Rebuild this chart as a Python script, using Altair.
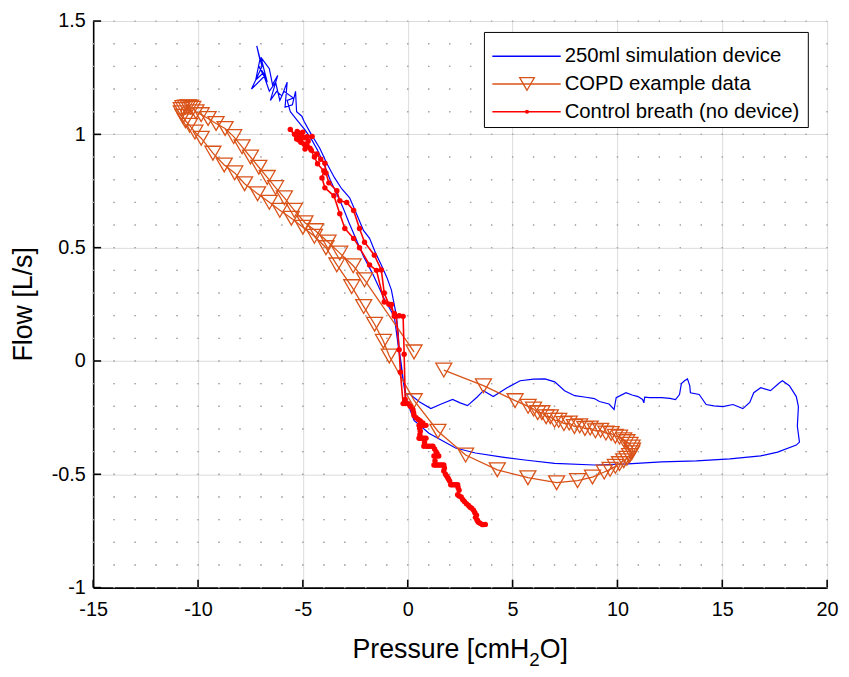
import altair as alt
import pandas as pd

W, H = 741, 572
X_DOMAIN = [-15, 20]
Y_DOMAIN = [-1, 1.5]
x_ticks = [-15, -10, -5, 0, 5, 10, 15, 20]
y_ticks = [-1, -0.5, 0, 0.5, 1, 1.5]
x_minor = list(range(-15, 21))
y_minor = [round(-1 + 0.1 * i, 1) for i in range(26)]

series_names = ["250ml simulation device", "COPD example data", "Control breath (no device)"]
series_colors = ["#0000FF", "#D95319", "#FF0000"]

# (pressure cmH2O, flow L/s) in drawing order
blue_pts = [
    (-5.6, 1.10), (-5.75, 1.15), (-5.45, 1.16), (-5.9, 1.19), (-6.1, 1.15), (-6.3, 1.23), (-6.6, 1.19),
    (-6.9, 1.27), (-7.25, 1.24), (-7.05, 1.33), (-7.2, 1.39), (-6.95, 1.30), (-7.45, 1.20), (-6.8, 1.26),
    (-7.1, 1.30), (-6.7, 1.23), (-7.0, 1.34), (-6.6, 1.29), (-6.45, 1.22), (-6.2, 1.26), (-6.55, 1.15),
    (-6.25, 1.19), (-6.0, 1.17), (-5.75, 1.23), (-5.85, 1.12), (-5.5, 1.13), (-5.35, 1.19), (-5.3, 1.10),
    (-5.05, 1.08),
    (-4.94, 1.057), (-4.6, 1.0), (-4.2, 0.94), (-3.85, 0.87), (-3.5, 0.81), (-3.15, 0.76), (-2.77, 0.72),
    (-2.4, 0.64), (-2.11, 0.576), (-1.82, 0.541), (-1.55, 0.48), (-1.26, 0.424), (-1.0, 0.37), (-0.78, 0.314),
    (-0.55, 0.205), (-0.45, 0.12), (-0.41, 0.05), (-0.3, -0.02), (-0.22, -0.08), (-0.08, -0.15),
    (0.07, -0.144), (0.55, -0.18), (1.10, -0.210), (1.6, -0.19), (2.14, -0.170), (2.5, -0.185), (2.85, -0.197),
    (3.3, -0.16), (3.61, -0.131), (4.08, -0.157), (4.7, -0.12), (5.36, -0.087), (6.0, -0.08), (6.54, -0.079),
    (7.01, -0.092), (7.48, -0.131), (7.96, -0.153), (8.5, -0.16), (8.90, -0.166), (9.14, -0.179), (9.6, -0.19),
    (9.84, -0.214), (9.94, -0.162), (10.41, -0.140), (10.7, -0.15), (10.98, -0.157), (11.2, -0.17),
    (11.26, -0.185), (11.3, -0.16), (11.54, -0.162), (12.11, -0.162), (12.5, -0.165), (12.77, -0.170),
    (12.96, -0.148), (13.05, -0.10), (13.20, -0.087), (13.34, -0.079), (13.45, -0.11), (13.48, -0.140),
    (13.90, -0.148), (14.23, -0.192), (14.6, -0.198), (15.03, -0.201), (15.51, -0.192), (15.98, -0.210),
    (16.31, -0.183), (16.50, -0.140), (16.83, -0.118), (17.30, -0.131), (17.73, -0.096), (17.87, -0.087),
    (18.20, -0.109), (18.53, -0.157), (18.63, -0.201), (18.58, -0.288), (18.68, -0.358),
    (18.53, -0.371), (17.64, -0.402), (16.83, -0.419), (15.37, -0.432), (13.77, -0.441), (12.11, -0.445),
    (10.50, -0.454), (8.90, -0.459), (7.0, -0.452), (5.59, -0.437), (4.51, -0.424), (3.23, -0.406),
    (2.28, -0.384), (1.01, -0.319), (0.30, -0.262), (-0.08, -0.166), (-0.31, -0.035), (-0.5, 0.1),
    (-0.64, 0.196),
    (-1.1, 0.27), (-1.7, 0.39), (-2.1, 0.46), (-2.44, 0.533), (-2.8, 0.61), (-3.1, 0.68), (-3.4, 0.74),
    (-3.7, 0.80), (-4.0, 0.87), (-4.3, 0.93), (-4.6, 0.98), (-4.9, 1.02), (-5.25, 1.06), (-5.6, 1.10),
]

orange_pts = [
    (1.72, -0.04), (3.61, -0.109), (5.12, -0.175), (5.74, -0.200),
    (6.0, -0.212), (6.2, -0.228), (6.4, -0.228), (6.6, -0.246), (6.8, -0.246), (7.0, -0.262), (7.2, -0.262),
    (7.45, -0.276), (7.7, -0.274), (7.95, -0.289), (8.2, -0.286), (8.45, -0.298), (8.7, -0.296),
    (8.95, -0.308), (9.2, -0.306), (9.45, -0.318), (9.7, -0.320), (9.9, -0.332), (10.1, -0.336),
    (10.3, -0.348), (10.45, -0.356), (10.6, -0.368), (10.7, -0.380), (10.72, -0.393), (10.68, -0.405),
    (10.58, -0.417), (10.45, -0.429), (10.3, -0.440), (10.1, -0.453), (9.9, -0.465), (9.65, -0.478),
    (9.37, -0.490),
    (8.81, -0.512), (8.1, -0.528), (7.1, -0.537), (5.73, -0.515), (4.27, -0.480), (2.76, -0.415),
    (1.44, -0.310), (0.31, -0.175),
    (-0.88, 0.022), (-1.16, 0.087), (-1.58, 0.162), (-2.1, 0.24), (-2.67, 0.328), (-3.38, 0.424),
    (-3.9, 0.50), (-4.45, 0.55), (-5.0, 0.59), (-5.55, 0.63), (-6.1, 0.665), (-6.6, 0.70), (-7.16, 0.738),
    (-7.78, 0.782), (-8.25, 0.83), (-8.75, 0.865), (-9.29, 0.917), (-9.85, 0.983), (-10.15, 1.01),
    (-10.4, 1.04), (-10.6, 1.06), (-10.72, 1.08), (-10.8, 1.095), (-10.8, 1.11), (-10.72, 1.118),
    (-10.6, 1.12), (-10.48, 1.122), (-10.36, 1.12), (-10.25, 1.115), (-10.1, 1.10),
    (-9.85, 1.087), (-9.52, 1.07), (-9.14, 1.048), (-8.71, 1.026), (-8.3, 0.99), (-7.9, 0.945), (-7.5, 0.90),
    (-7.1, 0.855), (-6.7, 0.81), (-6.3, 0.765), (-5.88, 0.72), (-5.41, 0.665), (-4.9, 0.61), (-4.4, 0.575),
    (-3.8, 0.525), (-3.24, 0.476), (-2.6, 0.42), (-2.06, 0.358), (0.30, 0.04),
]

red_pts = [
    (3.70, -0.721), (3.62, -0.722), (3.55, -0.722), (3.45, -0.716), (3.37, -0.712), (3.33, -0.705),
    (3.30, -0.700), (3.23, -0.690), (3.28, -0.680), (3.20, -0.670), (3.14, -0.659), (3.05, -0.650),
    (2.97, -0.645), (2.90, -0.638), (2.80, -0.630), (2.70, -0.620), (2.62, -0.611), (2.55, -0.600),
    (2.45, -0.596), (2.38, -0.590), (2.45, -0.570), (2.40, -0.558), (2.38, -0.546), (2.28, -0.546),
    (2.20, -0.546), (2.12, -0.546), (2.05, -0.546), (2.00, -0.530), (1.95, -0.522), (1.91, -0.515),
    (1.86, -0.508), (1.80, -0.500), (1.72, -0.485), (1.75, -0.472), (1.72, -0.459), (1.63, -0.459),
    (1.55, -0.459), (1.47, -0.459), (1.40, -0.459), (1.32, -0.459), (1.25, -0.459), (1.30, -0.440),
    (1.25, -0.419), (1.36, -0.419), (1.48, -0.419), (1.40, -0.408), (1.35, -0.400), (1.28, -0.388),
    (1.20, -0.376), (1.10, -0.376), (1.00, -0.376), (0.90, -0.376), (0.77, -0.376), (0.80, -0.360),
    (0.87, -0.341), (0.78, -0.341), (0.70, -0.341), (0.62, -0.341), (0.54, -0.341), (0.58, -0.325),
    (0.60, -0.310), (0.57, -0.297), (0.54, -0.284), (0.62, -0.284), (0.70, -0.284), (0.78, -0.284),
    (0.87, -0.284), (0.72, -0.274), (0.60, -0.265), (0.50, -0.258), (0.40, -0.250), (0.30, -0.240),
    (0.28, -0.228), (0.25, -0.215), (0.12, -0.200), (0.02, -0.188), (-0.10, -0.188), (-0.22, -0.188),
    (-0.35, -0.05), (-0.41, 0.05), (-0.55, 0.197), (-0.64, 0.197),
    (-0.78, 0.249), (-1.12, 0.26), (-1.49, 0.40), (-1.82, 0.424), (-2.3, 0.50), (-2.58, 0.541),
    (-3.0, 0.585), (-3.24, 0.65), (-3.52, 0.729), (-3.95, 0.764), (-4.09, 0.808), (-4.0, 0.838),
    (-4.3, 0.87), (-4.45, 0.90), (-4.66, 0.939), (-4.94, 0.956), (-5.1, 0.965), (-5.3, 0.98),
    (-5.6, 1.022), (-5.4, 1.0), (-5.27, 1.013), (-5.1, 0.985), (-5.35, 1.0), (-5.0, 1.01), (-5.2, 0.975),
    (-4.8, 0.99), (-5.04, 0.991), (-4.56, 0.991), (-4.75, 0.97), (-4.9, 0.935), (-5.15, 1.005),
    (-4.95, 0.985), (-5.25, 0.99),
    (-4.8, 0.95), (-4.6, 0.93), (-4.33, 0.913), (-4.15, 0.89), (-3.95, 0.873), (-3.9, 0.83), (-3.76, 0.786),
    (-3.38, 0.751), (-3.24, 0.707), (-2.91, 0.699), (-2.58, 0.664), (-2.30, 0.585), (-2.06, 0.524),
    (-1.59, 0.467), (-1.26, 0.402), (-1.12, 0.30), (-0.9, 0.25), (-0.64, 0.21), (-0.40, 0.20),
    (-0.22, 0.197), (-0.17, 0.03), (-0.12, -0.17),
]


def frame(pts):
    return pd.DataFrame({"p": [a for a, b in pts], "f": [b for a, b in pts], "i": list(range(len(pts)))})


FONT = "Liberation Sans"
xs = alt.Scale(domain=X_DOMAIN, nice=False, zero=False)
ys = alt.Scale(domain=Y_DOMAIN, nice=False, zero=False)
x_axis = alt.Axis(values=x_ticks, grid=True, gridColor="#dcdcdc", gridWidth=1, tickSize=0,
                  domainColor="black", domainWidth=1.6, labelFont=FONT, labelFontSize=20,
                  labelColor="black", labelPadding=12, labelFlush=False, labelOverlap=False,
                  labelExpr="toString(datum.value)", title=None)
y_axis = alt.Axis(values=y_ticks, grid=True, gridColor="#dcdcdc", gridWidth=1, tickSize=0,
                  domainColor="black", domainWidth=1.6, labelFont=FONT, labelFontSize=20,
                  labelColor="black", labelPadding=8, labelFlush=False, labelOverlap=False,
                  labelExpr="toString(datum.value)", title=None)


def X(field):
    return alt.X(field, scale=xs, axis=x_axis, title=None)


def Y(field):
    return alt.Y(field, scale=ys, axis=y_axis, title=None)


layers = []

# minor dotted grid (dots land on the intersections, like the reference)
px_per_x = W / 35.0
px_per_y = H / 25.0
vminor = alt.Chart(pd.DataFrame({"v": x_minor})).mark_rule(
    color="#a8a8a8", strokeWidth=1.2, strokeDash=[1.4, px_per_y - 1.4], strokeDashOffset=0.7
).encode(x=X("v:Q"), y=alt.value(0), y2=alt.value(H))
hminor = alt.Chart(pd.DataFrame({"v": y_minor})).mark_rule(
    color="#a8a8a8", strokeWidth=1.2, strokeDash=[1.4, px_per_x - 1.4], strokeDashOffset=0.7
).encode(y=Y("v:Q"), x=alt.value(0), x2=alt.value(W))
layers += [vminor, hminor]

# series
for pts, color, width in [(blue_pts, series_colors[0], 1.2), (orange_pts, series_colors[1], 1.3),
                          (red_pts, series_colors[2], 1.6)]:
    layers.append(alt.Chart(frame(pts)).mark_line(color=color, strokeWidth=width).encode(
        x=X("p:Q"), y=Y("f:Q"), order=alt.Order("i:Q")))
    if color == series_colors[1]:
        layers.append(alt.Chart(frame(pts)).mark_point(
            shape="triangle-down", filled=False, color=color, size=260, strokeWidth=1.3, opacity=1
        ).encode(x=X("p:Q"), y=Y("f:Q")))
    if color == series_colors[2]:
        layers.append(alt.Chart(frame(pts)).mark_circle(color=color, size=30, opacity=1).encode(
            x=X("p:Q"), y=Y("f:Q")))

# inward ticks
layers.append(alt.Chart(pd.DataFrame({"v": x_ticks})).mark_rule(color="black", strokeWidth=1.6).encode(
    x=X("v:Q"), y=alt.value(H), y2=alt.value(H - 8)))
layers.append(alt.Chart(pd.DataFrame({"v": y_ticks})).mark_rule(color="black", strokeWidth=1.6).encode(
    y=Y("v:Q"), x=alt.value(0), x2=alt.value(8)))

one = pd.DataFrame({"a": [0]})

# axis titles
FS_T = 27
c = W / 2
seg1 = "Pressure [cmH"
w1 = 6.612 * FS_T
w2 = 0.556 * FS_T * 0.7
w3 = 1.056 * FS_T
left = c - (w1 + w2 + w3) / 2
ty = H + 63
layers.append(alt.Chart(one).mark_text(align="right", baseline="middle", font=FONT, fontSize=FS_T,
                                       color="black").encode(
    x=alt.value(left + w1), y=alt.value(ty), text=alt.value(seg1)))
layers.append(alt.Chart(one).mark_text(align="left", baseline="middle", font=FONT, fontSize=FS_T * 0.7,
                                       color="black").encode(
    x=alt.value(left + w1), y=alt.value(ty + 10), text=alt.value("2")))
layers.append(alt.Chart(one).mark_text(align="left", baseline="middle", font=FONT, fontSize=FS_T,
                                       color="black").encode(
    x=alt.value(left + w1 + w2), y=alt.value(ty), text=alt.value("O]")))
layers.append(alt.Chart(one).mark_text(align="center", baseline="middle", font=FONT, fontSize=FS_T,
                                       angle=270, color="black").encode(
    x=alt.value(-70), y=alt.value(H / 2), text=alt.value("Flow [L/s]")))

# legend
LX0, LX1, LY0, LY1 = 395, 722, 11.5, 107.5
layers.append(alt.Chart(one).mark_rect(fill="white", stroke="black", strokeWidth=1).encode(
    x=alt.value(LX0), x2=alt.value(LX1), y=alt.value(LY0), y2=alt.value(LY1)))
for k, (name, color) in enumerate(zip(series_names, series_colors)):
    ry = 35.5 + 28 * k
    layers.append(alt.Chart(one).mark_rule(color=color, strokeWidth=1.6).encode(
        x=alt.value(403), x2=alt.value(472), y=alt.value(ry)))
    if k == 1:
        layers.append(alt.Chart(one).mark_point(shape="triangle-down", filled=False, color=color, size=220,
                                                strokeWidth=1.3, opacity=1).encode(
            x=alt.value(438), y=alt.value(ry)))
    if k == 2:
        layers.append(alt.Chart(one).mark_circle(color=color, size=16, opacity=1).encode(
            x=alt.value(438), y=alt.value(ry)))
    layers.append(alt.Chart(one).mark_text(align="left", baseline="middle", font=FONT, fontSize=20.5,
                                           color="black").encode(
        x=alt.value(476), y=alt.value(ry), text=alt.value(name)))

chart = alt.layer(*layers).properties(
    width=W, height=H,
    autosize=alt.AutoSizeParams(type="none"),
    padding={"left": 86, "top": 10, "right": 14, "bottom": 80},
    background="white",
).configure_view(stroke=None)

chart.save("out.html", embed_options={"renderer": "svg", "actions": False})
